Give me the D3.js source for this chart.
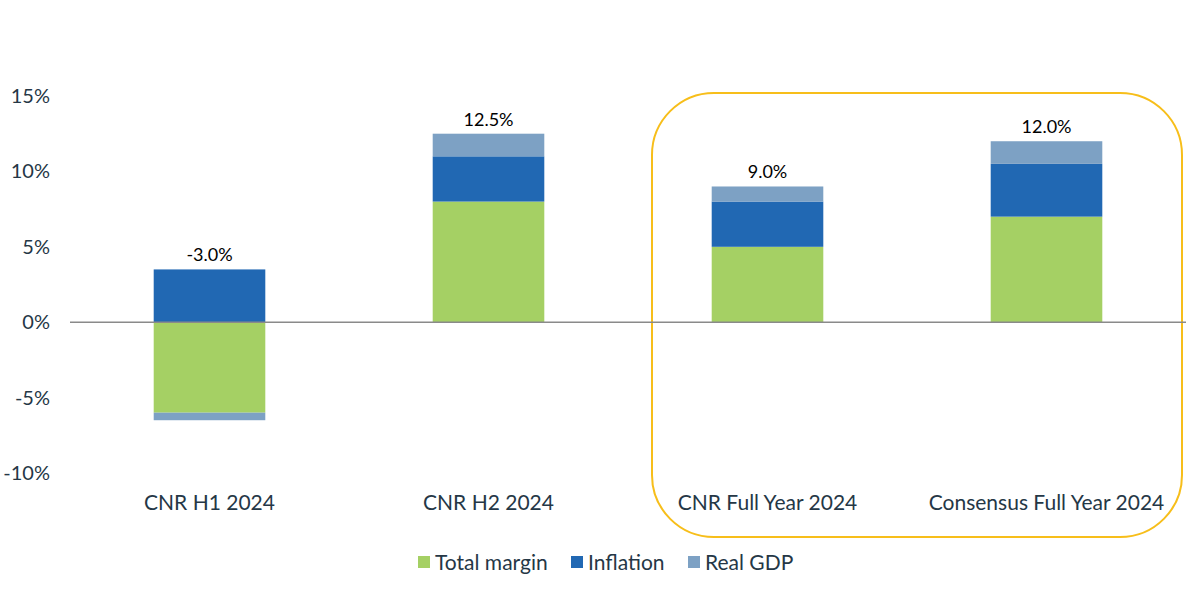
<!DOCTYPE html>
<html><head><meta charset="utf-8">
<script src="https://cdn.jsdelivr.net/npm/d3@7"></script>
<style>body{margin:0;background:#fff;} text{font-family:Lato,"Open Sans",sans-serif;}</style>
</head><body><svg id="c" width="1200" height="600"></svg>
<script>
const categories = ["CNR H1 2024","CNR H2 2024","CNR Full Year 2024","Consensus Full Year 2024"];
const totalMargin = [-6.0, 8.0, 5.0, 7.0];
const inflation = [3.5, 3.0, 3.0, 3.5];
const realGDP = [-0.5, 1.5, 1.0, 1.5];
const totals = ["-3.0%","12.5%","9.0%","12.0%"];
const yTicks = [-10,-5,0,5,10,15];
const seriesNames = ["Total margin","Inflation","Real GDP"];
const colors = ["#A5D064","#2168B3","#7DA1C4"];

const svg = d3.select("#c");
const x = d3.scaleBand().domain(categories).range([70,1186]).paddingInner(0.6).paddingOuter(0.3);
const y = d3.scaleLinear().domain([-10,15]).range([473,96]);

// highlight box
svg.append("rect").attr("x",652).attr("y",93).attr("width",530).attr("height",444)
  .attr("rx",62).attr("ry",62).attr("fill","none").attr("stroke","#F7BE1A").attr("stroke-width",2);

// y axis labels
const yAxis = d3.axisLeft(y).tickValues(yTicks).tickFormat(d=>d+"%").tickSize(0).tickPadding(0);
const ga = svg.append("g").attr("transform","translate(50,0)").call(yAxis);
ga.select(".domain").remove();
ga.selectAll("text").attr("font-size",20).attr("fill","#253746").attr("font-family","Lato");

// stacked bars
const series = [totalMargin, inflation, realGDP];
categories.forEach((c,i)=>{
  let pos=0, neg=0;
  series.forEach((s,k)=>{
    const v=s[i];
    let y0,y1;
    if(v>=0){y0=pos; y1=pos+v; pos=y1;} else {y0=neg; y1=neg+v; neg=y1;}
    svg.append("rect").attr("x",x(c)).attr("width",x.bandwidth())
      .attr("y",y(Math.max(y0,y1))).attr("height",Math.abs(y(y0)-y(y1)))
      .attr("fill",colors[k]);
  });
  svg.append("text").attr("x",x(c)+x.bandwidth()/2).attr("y",y(pos)-8)
    .attr("text-anchor","middle").attr("font-size",18).attr("fill","#000")
    .attr("font-weight",400).text(totals[i]);
});

// zero line
svg.append("line").attr("x1",70).attr("x2",1186).attr("y1",y(0)).attr("y2",y(0))
  .attr("stroke","#8a8a8a").attr("stroke-width",1.5);

// category labels
const xAxis = d3.axisBottom(x).tickSize(0).tickPadding(0);
const gx = svg.append("g").attr("transform","translate(0,495)").call(xAxis);
gx.select(".domain").remove();
gx.selectAll("text").attr("font-size",21).attr("fill","#253746").attr("font-family","Lato");

// legend
const legX = [418,571,688];
seriesNames.forEach((n,k)=>{
  svg.append("rect").attr("x",legX[k]).attr("y",556).attr("width",12).attr("height",12).attr("fill",colors[k]);
  svg.append("text").attr("x",legX[k]+17).attr("y",570).attr("font-size",21).attr("fill","#253746").text(n);
});
</script></body></html>
